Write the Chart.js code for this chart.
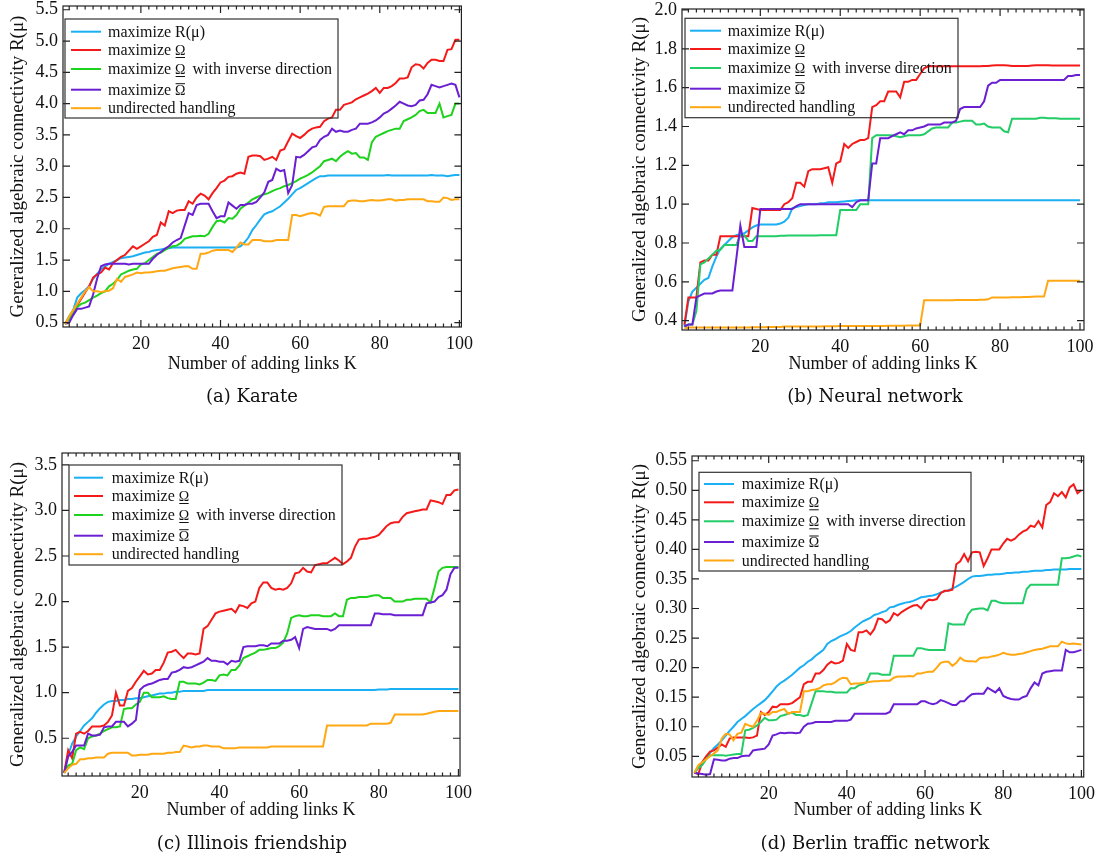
<!DOCTYPE html>
<html><head><meta charset="utf-8">
<script src="https://cdn.jsdelivr.net/npm/chart.js@4.4.1/dist/chart.umd.min.js"></script>
<style>
html,body{margin:0;padding:0;background:#fff;}
body{width:1101px;height:858px;position:relative;overflow:hidden;}
canvas{position:absolute;}
.cap{position:absolute;font-family:"DejaVu Serif",serif;font-size:18px;color:#111;white-space:nowrap;transform:translate(-50%,-50%);}
</style></head><body>
<canvas id="ca"></canvas><canvas id="cb"></canvas><canvas id="cc"></canvas><canvas id="cd"></canvas>
<div class="cap" style="left:252px;top:395px">(a) Karate</div>
<div class="cap" style="left:875px;top:395px">(b) Neural network</div>
<div class="cap" style="left:252px;top:842px">(c) Illinois friendship</div>
<div class="cap" style="left:875px;top:842px">(d) Berlin traffic network</div>
<script>
// ---------- shared categories / labels ----------
const K = [1,2,3,4,5,6,7,8,9,10,11,12,13,14,15,16,17,18,19,20,21,22,23,24,25,26,27,28,29,30,31,32,33,34,35,36,37,38,39,40,41,42,43,44,45,46,47,48,49,50,51,52,53,54,55,56,57,58,59,60,61,62,63,64,65,66,67,68,69,70,71,72,73,74,75,76,77,78,79,80,81,82,83,84,85,86,87,88,89,90,91,92,93,94,95,96,97,98,99,100];
const seriesLabels = ['maximize R(μ)','maximize Ω\u0332','maximize Ω\u0332 with inverse direction','maximize Ω\u0304','undirected handling'];
const xTicks = [20,40,60,80,100];
const xTitle = 'Number of adding links K';

// ---------- (a) Karate ----------
const karateYTicks = [0.5,1.0,1.5,2.0,2.5,3.0,3.5,4.0,4.5,5.0,5.5];
const karateRmu = [0.48,0.60,0.70,0.90,0.97,1.02,1.08,1.20,1.28,1.35, 1.40,1.44,1.47,1.50,1.53,1.54,1.55,1.56,1.58,1.60, 1.62,1.63,1.65,1.66,1.67,1.68,1.69,1.70,1.70,1.70, 1.70,1.70,1.70,1.70,1.70,1.70,1.70,1.70,1.70,1.70, 1.70,1.70,1.70,1.70,1.72,1.78,1.86,1.98,2.06,2.15, 2.23,2.26,2.28,2.32,2.36,2.42,2.48,2.55,2.62,2.65, 2.69,2.73,2.77,2.81,2.84,2.84,2.85,2.85,2.85,2.85, 2.85,2.85,2.85,2.85,2.85,2.85,2.85,2.85,2.85,2.85, 2.85,2.86,2.85,2.85,2.85,2.85,2.85,2.85,2.85,2.85, 2.85,2.85,2.86,2.85,2.85,2.85,2.84,2.85,2.86,2.86];
const karateOmegaLow = [0.49,0.58,0.65,0.78,0.88,0.98,1.08,1.22,1.27,1.30, 1.38,1.35,1.45,1.50,1.55,1.58,1.65,1.72,1.68,1.72, 1.76,1.80,1.87,1.90,2.10,2.05,2.28,2.25,2.29,2.30, 2.30,2.44,2.40,2.50,2.56,2.53,2.47,2.57,2.65,2.74, 2.77,2.83,2.84,2.88,2.90,2.88,3.15,3.17,3.17,3.16, 3.10,3.12,3.15,3.10,3.25,3.27,3.40,3.52,3.48,3.45, 3.50,3.56,3.60,3.62,3.63,3.72,3.76,3.78,3.90,3.90, 3.98,4.00,4.02,4.07,4.10,4.13,4.16,4.20,4.25,4.17, 4.25,4.25,4.28,4.33,4.40,4.40,4.42,4.58,4.63,4.62, 4.56,4.65,4.70,4.70,4.68,4.68,4.86,4.87,5.02,5.02];
const karateOmegaInv = [0.48,0.55,0.65,0.75,0.80,0.82,0.86,0.90,0.93,0.97, 1.00,1.08,1.12,1.18,1.27,1.30,1.33,1.35,1.36,1.43, 1.45,1.50,1.55,1.60,1.62,1.66,1.70,1.72,1.73,1.77, 1.84,1.86,1.88,1.88,1.89,1.88,1.92,2.03,2.12,2.13, 2.10,2.17,2.16,2.22,2.32,2.37,2.42,2.47,2.50,2.53, 2.55,2.57,2.60,2.63,2.65,2.68,2.70,2.73,2.76,2.80, 2.83,2.86,2.90,2.95,3.00,3.08,3.10,3.12,3.08,3.15, 3.20,3.24,3.20,3.21,3.14,3.14,3.10,3.38,3.47,3.50, 3.53,3.56,3.58,3.60,3.60,3.72,3.75,3.78,3.82,3.88, 3.90,3.85,3.85,3.85,4.00,3.78,3.80,3.82,4.00,4.00];
const karateOmegaBar = [0.48,0.50,0.62,0.72,0.72,0.74,0.76,0.95,1.20,1.40, 1.43,1.44,1.44,1.44,1.44,1.44,1.43,1.44,1.44,1.44, 1.44,1.44,1.52,1.58,1.63,1.68,1.72,1.78,1.82,1.85, 2.05,2.25,2.22,2.38,2.40,2.40,2.40,2.28,2.17,2.20, 2.20,2.42,2.37,2.32,2.38,2.38,2.40,2.40,2.43,2.50, 2.58,2.75,2.78,2.96,2.92,2.94,2.57,2.70,3.15,3.14, 3.18,3.24,3.30,3.32,3.42,3.47,3.50,3.60,3.55,3.57, 3.55,3.55,3.58,3.60,3.68,3.68,3.68,3.70,3.73,3.78, 3.84,3.87,3.92,3.97,4.03,4.00,3.97,3.96,3.98,4.05, 4.06,4.15,4.30,4.28,4.26,4.28,4.30,4.32,4.30,4.10];
const karateUndirected = [0.47,0.60,0.70,0.80,0.90,1.00,1.07,1.00,1.00,0.99, 1.00,1.01,1.05,1.20,1.15,1.23,1.25,1.27,1.30,1.29, 1.30,1.30,1.31,1.32,1.33,1.33,1.35,1.37,1.38,1.39, 1.40,1.40,1.36,1.36,1.60,1.60,1.62,1.65,1.66,1.66, 1.66,1.66,1.63,1.70,1.78,1.75,1.75,1.82,1.82,1.82, 1.80,1.80,1.80,1.82,1.82,1.82,1.82,2.22,2.22,2.20, 2.22,2.24,2.25,2.24,2.21,2.35,2.36,2.36,2.36,2.36, 2.36,2.44,2.45,2.45,2.44,2.44,2.45,2.46,2.45,2.45, 2.46,2.47,2.47,2.45,2.46,2.46,2.47,2.47,2.47,2.47, 2.47,2.44,2.44,2.43,2.43,2.50,2.49,2.46,2.47,2.47];

// ---------- (b) Neural network ----------
const neuralYTicks = [0.4,0.6,0.8,1.0,1.2,1.4,1.6,1.8,2.0];
const neuralRmu = [0.37,0.50,0.55,0.57,0.59,0.61,0.62,0.68,0.73,0.77, 0.79,0.81,0.83,0.84,0.845,0.85,0.865,0.88,0.89,0.895, 0.895,0.895,0.895,0.895,0.90,0.91,0.93,0.98,0.985,0.99, 0.995,1.0,1.0,1.0,1.005,1.005,1.01,1.01,1.01,1.012, 1.014,1.016,1.018,1.02,1.02,1.02,1.02,1.02,1.02,1.02, 1.02,1.02,1.02,1.02,1.02,1.02,1.02,1.02,1.02,1.02, 1.02,1.02,1.02,1.02,1.02,1.02,1.02,1.02,1.02,1.02, 1.02,1.02,1.02,1.02,1.02,1.02,1.02,1.02,1.02,1.02, 1.02,1.02,1.02,1.02,1.02,1.02,1.02,1.02,1.02,1.02, 1.02,1.02,1.02,1.02,1.02,1.02,1.02,1.02,1.02,1.02];
const neuralOmegaLow = [0.38,0.52,0.52,0.52,0.70,0.71,0.71,0.74,0.74,0.835, 0.835,0.835,0.835,0.835,0.835,0.835,0.835,0.98,0.975,0.97, 0.97,0.97,0.97,0.97,0.97,1.00,1.01,1.03,1.11,1.11, 1.09,1.17,1.18,1.18,1.18,1.185,1.19,1.11,1.21,1.22, 1.31,1.29,1.31,1.32,1.33,1.33,1.34,1.50,1.51,1.53, 1.53,1.58,1.58,1.58,1.55,1.63,1.63,1.64,1.64,1.67, 1.70,1.71,1.71,1.71,1.71,1.71,1.71,1.71,1.71,1.71, 1.71,1.71,1.71,1.71,1.71,1.712,1.712,1.714,1.715,1.715, 1.715,1.714,1.712,1.712,1.712,1.712,1.712,1.714,1.715,1.715, 1.715,1.715,1.714,1.714,1.714,1.714,1.714,1.714,1.714,1.714];
const neuralOmegaInv = [0.37,0.38,0.38,0.45,0.69,0.70,0.72,0.74,0.76,0.765, 0.79,0.79,0.79,0.79,0.84,0.84,0.81,0.81,0.835,0.835, 0.835,0.835,0.835,0.835,0.837,0.837,0.838,0.838,0.838,0.838, 0.838,0.838,0.838,0.839,0.84,0.84,0.84,0.84,0.84,0.97, 0.97,0.97,0.97,0.97,1.00,1.00,1.00,1.34,1.355,1.355, 1.355,1.355,1.355,1.35,1.345,1.35,1.355,1.355,1.355,1.355, 1.36,1.375,1.39,1.395,1.395,1.395,1.395,1.42,1.42,1.425, 1.43,1.43,1.43,1.41,1.41,1.415,1.40,1.395,1.395,1.395, 1.375,1.37,1.44,1.44,1.44,1.44,1.44,1.44,1.44,1.445, 1.445,1.443,1.443,1.443,1.44,1.44,1.44,1.44,1.44,1.44];
const neuralOmegaBar = [0.37,0.38,0.38,0.52,0.53,0.54,0.54,0.54,0.55,0.555, 0.555,0.555,0.555,0.72,0.89,0.78,0.78,0.78,0.78,0.975, 0.975,0.975,0.975,0.975,0.975,0.975,0.975,0.975,0.99,1.0, 1.0,1.0,1.0,1.0,1.0,1.0,1.0,1.0,1.0,1.0, 1.0,1.0,0.985,1.01,1.02,1.02,1.02,1.21,1.21,1.34, 1.34,1.34,1.35,1.36,1.37,1.36,1.38,1.38,1.39,1.395, 1.40,1.41,1.41,1.41,1.41,1.42,1.42,1.42,1.43,1.49, 1.50,1.50,1.50,1.50,1.50,1.53,1.61,1.625,1.625,1.64, 1.64,1.64,1.64,1.64,1.64,1.64,1.64,1.64,1.64,1.64, 1.64,1.64,1.64,1.64,1.64,1.64,1.66,1.66,1.665,1.665];
const neuralUndirected = [0.36,0.365,0.365,0.365,0.365,0.365,0.365,0.365,0.365,0.365, 0.365,0.365,0.365,0.365,0.365,0.365,0.365,0.366,0.366,0.366, 0.366,0.367,0.367,0.367,0.367,0.37,0.37,0.37,0.37,0.37, 0.37,0.37,0.37,0.37,0.37,0.371,0.371,0.371,0.371,0.372, 0.372,0.372,0.372,0.372,0.372,0.373,0.373,0.373,0.373,0.373, 0.373,0.374,0.374,0.374,0.374,0.374,0.375,0.375,0.375,0.375, 0.505,0.505,0.505,0.505,0.505,0.505,0.505,0.505,0.506,0.506, 0.506,0.507,0.507,0.507,0.508,0.508,0.51,0.52,0.52,0.52, 0.52,0.52,0.521,0.521,0.521,0.522,0.522,0.523,0.524,0.525, 0.525,0.605,0.605,0.605,0.605,0.605,0.605,0.605,0.605,0.605];

// ---------- (c) Illinois friendship ----------
const illinoisYTicks = [0.5,1.0,1.5,2.0,2.5,3.0,3.5];
const illinoisRmu = [0.12,0.32,0.44,0.52,0.58,0.64,0.68,0.72,0.78,0.83, 0.87,0.90,0.91,0.91,0.92,0.92,0.93,0.93,0.94,0.94, 0.95,0.96,0.97,0.98,0.99,0.99,1.00,1.00,1.01,1.01, 1.02,1.02,1.02,1.02,1.02,1.02,1.03,1.03,1.03,1.03, 1.03,1.03,1.03,1.03,1.03,1.03,1.03,1.03,1.03,1.03, 1.03,1.03,1.03,1.03,1.03,1.03,1.03,1.03,1.03,1.03, 1.03,1.03,1.03,1.03,1.03,1.03,1.03,1.03,1.03,1.03, 1.03,1.03,1.03,1.03,1.03,1.03,1.03,1.03,1.03,1.035, 1.035,1.035,1.04,1.04,1.04,1.04,1.04,1.04,1.04,1.04, 1.04,1.04,1.04,1.04,1.04,1.04,1.04,1.04,1.04,1.04];
const illinoisOmegaLow = [0.12,0.37,0.28,0.55,0.57,0.55,0.58,0.63,0.63,0.63, 0.64,0.68,0.75,1.00,0.86,0.86,1.02,1.05,1.12,1.18, 1.24,1.20,1.21,1.25,1.25,1.33,1.44,1.45,1.47,1.42, 1.38,1.43,1.43,1.42,1.43,1.70,1.73,1.80,1.87,1.89, 1.90,1.91,1.92,1.88,1.96,1.95,1.93,1.98,2.00,2.15, 2.21,2.21,2.15,2.13,2.14,2.13,2.15,2.20,2.31,2.32, 2.37,2.33,2.32,2.40,2.41,2.42,2.42,2.45,2.48,2.45, 2.41,2.44,2.48,2.60,2.68,2.69,2.69,2.70,2.71,2.73, 2.78,2.83,2.86,2.87,2.87,2.93,2.97,2.98,2.99,3.00, 3.01,3.01,3.11,3.10,3.09,3.07,3.17,3.17,3.22,3.23];
const illinoisOmegaInv = [0.12,0.20,0.22,0.37,0.40,0.38,0.50,0.52,0.53,0.55, 0.58,0.60,0.62,0.62,0.63,0.82,0.83,0.83,0.87,0.90, 1.00,1.00,0.95,0.95,0.95,0.96,0.94,0.93,0.93,1.12, 1.12,1.10,1.10,1.10,1.09,1.11,1.14,1.14,1.13,1.19, 1.20,1.19,1.25,1.25,1.30,1.38,1.40,1.42,1.44,1.47, 1.47,1.48,1.49,1.49,1.51,1.55,1.65,1.82,1.84,1.85, 1.84,1.84,1.85,1.85,1.85,1.84,1.84,1.84,1.87,1.84, 1.84,2.02,2.04,2.04,2.05,2.05,2.05,2.06,2.07,2.07, 2.04,2.04,2.04,2.00,2.00,2.00,2.02,2.02,2.03,2.03, 2.03,2.03,1.99,2.15,2.33,2.37,2.38,2.38,2.38,2.38];
const illinoisOmegaBar = [0.12,0.30,0.35,0.42,0.42,0.42,0.55,0.53,0.53,0.54, 0.62,0.63,0.63,0.68,0.68,0.68,0.63,0.66,0.70,1.03, 1.07,1.09,1.10,1.12,1.14,1.15,1.15,1.22,1.23,1.25, 1.28,1.27,1.28,1.30,1.32,1.34,1.38,1.35,1.35,1.34, 1.34,1.31,1.35,1.34,1.35,1.50,1.51,1.51,1.51,1.52, 1.52,1.51,1.54,1.54,1.54,1.57,1.57,1.58,1.61,1.49, 1.70,1.72,1.71,1.70,1.70,1.70,1.70,1.68,1.70,1.74, 1.74,1.74,1.74,1.74,1.74,1.74,1.74,1.74,1.87,1.87, 1.86,1.86,1.86,1.85,1.85,1.85,1.85,1.85,1.85,1.85, 1.85,1.98,1.99,2.00,2.05,2.07,2.13,2.30,2.37,2.37];
const illinoisUndirected = [0.12,0.17,0.21,0.22,0.27,0.27,0.28,0.28,0.29,0.29, 0.29,0.33,0.34,0.34,0.34,0.34,0.34,0.31,0.31,0.32, 0.32,0.32,0.33,0.33,0.33,0.33,0.34,0.34,0.35,0.35, 0.42,0.41,0.40,0.41,0.41,0.42,0.42,0.41,0.41,0.41, 0.39,0.39,0.39,0.39,0.40,0.40,0.40,0.40,0.40,0.40, 0.40,0.40,0.41,0.41,0.41,0.41,0.41,0.41,0.41,0.41, 0.41,0.41,0.41,0.41,0.41,0.41,0.64,0.64,0.64,0.64, 0.64,0.64,0.64,0.64,0.64,0.64,0.64,0.66,0.66,0.66, 0.66,0.66,0.67,0.76,0.76,0.76,0.76,0.76,0.76,0.76, 0.76,0.77,0.78,0.79,0.80,0.80,0.80,0.80,0.80,0.80];

// ---------- (d) Berlin traffic network ----------
const berlinYTicks = [0.05,0.10,0.15,0.20,0.25,0.30,0.35,0.40,0.45,0.50,0.55];
const berlinRmu = [0.022,0.033,0.040,0.048,0.056,0.064,0.070,0.077,0.085,0.093, 0.100,0.108,0.113,0.118,0.124,0.130,0.135,0.140,0.145,0.152, 0.160,0.168,0.174,0.178,0.183,0.188,0.194,0.200,0.204,0.210, 0.214,0.220,0.225,0.230,0.240,0.245,0.248,0.252,0.255,0.258, 0.262,0.268,0.273,0.278,0.281,0.284,0.289,0.291,0.294,0.296, 0.302,0.303,0.306,0.308,0.310,0.311,0.313,0.316,0.319,0.320, 0.321,0.322,0.324,0.327,0.329,0.331,0.334,0.337,0.341,0.345, 0.350,0.354,0.355,0.355,0.356,0.357,0.357,0.358,0.358,0.359, 0.360,0.360,0.361,0.361,0.362,0.362,0.363,0.364,0.364,0.364, 0.365,0.365,0.366,0.366,0.366,0.366,0.367,0.367,0.367,0.367];
const berlinOmegaLow = [0.022,0.020,0.040,0.050,0.058,0.060,0.065,0.070,0.066,0.080, 0.082,0.082,0.082,0.082,0.081,0.082,0.085,0.125,0.120,0.125, 0.134,0.133,0.138,0.138,0.138,0.140,0.145,0.150,0.172,0.176, 0.176,0.190,0.190,0.196,0.205,0.210,0.207,0.208,0.212,0.240, 0.230,0.228,0.260,0.260,0.263,0.256,0.265,0.283,0.282,0.276, 0.280,0.292,0.288,0.294,0.298,0.302,0.305,0.306,0.300,0.310, 0.315,0.314,0.316,0.326,0.330,0.330,0.332,0.375,0.380,0.392, 0.380,0.395,0.396,0.395,0.372,0.385,0.400,0.400,0.400,0.410, 0.418,0.415,0.418,0.425,0.430,0.433,0.440,0.438,0.448,0.437, 0.475,0.480,0.495,0.490,0.497,0.488,0.505,0.510,0.495,0.500];
const berlinOmegaInv = [0.022,0.030,0.035,0.045,0.052,0.052,0.052,0.052,0.051,0.052, 0.053,0.054,0.054,0.094,0.095,0.098,0.102,0.108,0.115,0.111, 0.111,0.112,0.118,0.120,0.122,0.124,0.120,0.120,0.118,0.120, 0.140,0.160,0.160,0.160,0.159,0.159,0.158,0.158,0.158,0.158, 0.165,0.165,0.170,0.172,0.175,0.190,0.190,0.190,0.188,0.188, 0.188,0.220,0.220,0.220,0.220,0.220,0.220,0.233,0.233,0.231, 0.230,0.230,0.230,0.230,0.230,0.275,0.273,0.273,0.273,0.273, 0.290,0.298,0.299,0.300,0.300,0.297,0.313,0.313,0.310,0.309, 0.309,0.309,0.309,0.309,0.309,0.333,0.340,0.340,0.340,0.340, 0.340,0.340,0.340,0.340,0.385,0.385,0.386,0.388,0.390,0.388];
const berlinOmegaBar = [0.022,0.021,0.020,0.019,0.020,0.045,0.044,0.043,0.043,0.046, 0.047,0.047,0.050,0.051,0.051,0.060,0.061,0.062,0.063,0.070, 0.085,0.087,0.090,0.089,0.090,0.090,0.089,0.090,0.100,0.105, 0.106,0.108,0.108,0.108,0.108,0.108,0.110,0.110,0.110,0.110, 0.112,0.122,0.122,0.122,0.122,0.122,0.122,0.122,0.122,0.122, 0.125,0.138,0.138,0.138,0.138,0.138,0.138,0.138,0.143,0.143, 0.140,0.138,0.140,0.145,0.143,0.140,0.137,0.137,0.143,0.143, 0.150,0.155,0.156,0.156,0.156,0.166,0.162,0.158,0.165,0.152, 0.149,0.147,0.146,0.146,0.150,0.152,0.165,0.175,0.170,0.190, 0.193,0.194,0.195,0.195,0.195,0.230,0.226,0.226,0.228,0.230];
const berlinUndirected = [0.022,0.035,0.040,0.045,0.050,0.055,0.060,0.080,0.088,0.087, 0.077,0.088,0.090,0.105,0.102,0.100,0.110,0.123,0.122,0.120, 0.125,0.125,0.128,0.130,0.122,0.125,0.125,0.125,0.160,0.160, 0.162,0.163,0.165,0.170,0.172,0.172,0.175,0.180,0.183,0.182, 0.172,0.173,0.173,0.174,0.175,0.176,0.177,0.177,0.178,0.178, 0.178,0.183,0.185,0.185,0.185,0.186,0.185,0.190,0.190,0.192, 0.193,0.193,0.200,0.208,0.210,0.210,0.203,0.208,0.217,0.212, 0.211,0.211,0.210,0.216,0.217,0.217,0.219,0.220,0.222,0.225, 0.223,0.222,0.222,0.223,0.224,0.226,0.228,0.230,0.231,0.232, 0.234,0.236,0.236,0.236,0.244,0.241,0.240,0.241,0.240,0.239];

// ---------- styling ----------
const FONT = '"Liberation Serif","Times New Roman",serif';
const colorsA = ['#1bb0f3','#f51a1a','#1ed21e','#6a1fd2','#ffa814'];
const colorsB = ['#1bb0f3','#f51a1a','#22cc66','#6a1fd2','#ffa814'];

const framePlugin = {
  id: 'frameTicks',
  afterDatasetsDraw(chart) {
    const {ctx, chartArea: a, scales: {x, y}} = chart;
    ctx.save();
    ctx.strokeStyle = '#222';
    ctx.lineWidth = 1.2;
    ctx.beginPath();
    for (let v = 2; v <= 100; v += 2) {
      const px = x.getPixelForValue(v);
      const len = (v % 20 === 0) ? 7 : 3.5;
      ctx.moveTo(px, a.bottom); ctx.lineTo(px, a.bottom - len);
      ctx.moveTo(px, a.top); ctx.lineTo(px, a.top + len);
    }
    y.ticks.forEach(t => {
      const py = y.getPixelForValue(t.value);
      ctx.moveTo(a.left, py); ctx.lineTo(a.left + 7, py);
      ctx.moveTo(a.right, py); ctx.lineTo(a.right - 7, py);
    });
    ctx.stroke();
    ctx.strokeRect(a.left, a.top, a.right - a.left, a.bottom - a.top);
    ctx.restore();
  }
};

const legendPlugin = {
  id: 'boxLegend',
  afterDraw(chart, args, o) {
    const ctx = chart.ctx;
    ctx.save();
    ctx.strokeStyle = '#333';
    ctx.lineWidth = 1.2;
    ctx.strokeRect(o.box[0] - o.ox, o.box[1] - o.oy, o.box[2], o.box[3]);
    const rows = [0, 18.3, 37.3, 58, 76.5];
    chart.data.datasets.forEach((ds, i) => {
      const yy = o.y0 + rows[i] - o.oy;
      ctx.strokeStyle = ds.borderColor;
      ctx.lineWidth = 2;
      ctx.beginPath();
      ctx.moveTo(o.lx0 - o.ox, yy); ctx.lineTo(o.lx1 - o.ox, yy);
      ctx.stroke();
      const base = yy + 5;
      let tx = o.tx - o.ox;
      ctx.fillStyle = '#111';
      ctx.textBaseline = 'alphabetic';
      ctx.textAlign = 'left';
      ctx.font = '16px ' + FONT;
      const m = ds.label.match(/^(.*?)Ω([\u0332\u0304])(.*)$/);
      if (!m) { ctx.fillText(ds.label, tx, base); return; }
      ctx.fillText(m[1], tx, base);
      tx += ctx.measureText(m[1]).width;
      ctx.font = '14px ' + FONT;
      ctx.fillText('Ω', tx, base);
      const w = ctx.measureText('Ω').width;
      ctx.strokeStyle = '#111';
      ctx.lineWidth = 1;
      ctx.beginPath();
      const ly = m[2] === '\u0332' ? base + 2.5 : base - 11;
      ctx.moveTo(tx + 0.5, ly); ctx.lineTo(tx + w - 0.5, ly);
      ctx.stroke();
      tx += w + 3;
      if (m[3]) { ctx.font = '16px ' + FONT; ctx.fillText(m[3], tx, base); }
    });
    ctx.restore();
  }
};

function makePanel(id, P) {
  const cv = document.getElementById(id);
  const cx = P.L - P.yW, cy = P.T - 20;
  const cw = P.R - cx + 17, ch = P.B - cy + 60;
  cv.style.left = cx + 'px'; cv.style.top = cy + 'px';
  cv.style.width = cw + 'px'; cv.style.height = ch + 'px';
  cv.width = cw; cv.height = ch;
  const datasets = P.series.map((s, i) => ({
    label: seriesLabels[i],
    data: s.map((v, j) => ({x: K[j], y: v})),
    borderColor: P.colors[i],
    backgroundColor: P.colors[i],
    borderWidth: 2,
    pointRadius: 0,
    tension: 0,
    fill: false,
    order: 5 - i
  }));
  new Chart(cv, {
    type: 'line',
    data: {datasets},
    plugins: [framePlugin, legendPlugin],
    options: {
      responsive: false,
      animation: false,
      events: [],
      layout: {padding: {left: 0, top: 20, right: 17, bottom: 0}},
      plugins: {
        legend: {display: false},
        tooltip: {enabled: false},
        boxLegend: {box: P.box, y0: P.y0, lx0: P.lx0, lx1: P.lx1, tx: P.tx, ox: cx, oy: cy}
      },
      scales: {
        x: {
          type: 'linear', min: P.xmin, max: P.xmax,
          afterBuildTicks: s => { s.ticks = xTicks.map(v => ({value: v})); },
          afterFit: s => { s.height = 60; },
          grid: {display: false, drawTicks: false},
          border: {display: false},
          ticks: {padding: 6, autoSkip: false, maxRotation: 0, color: '#111',
                  font: {family: FONT, size: 18}, callback: v => String(v)},
          title: {display: true, text: xTitle, color: '#111',
                  font: {family: FONT, size: 18, lineHeight: 1.2},
                  padding: {top: 0, bottom: cy + ch - 10.8 - P.xTitleY}}
        },
        y: {
          type: 'linear', min: P.ymin, max: P.ymax,
          afterBuildTicks: s => { s.ticks = P.yTicks.map(v => ({value: v})); },
          afterFit: s => { s.width = P.yW; },
          grid: {display: false, drawTicks: false},
          border: {display: false},
          ticks: {padding: 5, autoSkip: false, color: '#111',
                  font: {family: FONT, size: 18}, callback: v => v.toFixed(P.dec)},
          title: {display: true, text: P.yTitle, color: '#111',
                  font: {family: FONT, size: 19, lineHeight: 1.2},
                  padding: {top: P.yTitleX - cx - 11.4, bottom: 0}}
        }
      }
    }
  });
}

makePanel('ca', {L:63, T:6, R:462, B:327, yW:63, xmin:0.44, xmax:100.5, ymin:0.43, ymax:5.56,
  yTicks: karateYTicks, dec:1, yTitle:'Gereralized algebraic connectivity R(μ)', yTitleX:18, xTitleY:364,
  series:[karateRmu, karateOmegaLow, karateOmegaInv, karateOmegaBar, karateUndirected], colors: colorsA,
  box:[65,19,273,99], y0:31.7, lx0:71, lx1:101, tx:108});
makePanel('cb', {L:682, T:9, R:1084, B:330, yW:63, xmin:0.4, xmax:101, ymin:0.352, ymax:2.005,
  yTicks: neuralYTicks, dec:1, yTitle:'Generalized algebraic connectivity R(μ)', yTitleX:640, xTitleY:364,
  series:[neuralRmu, neuralOmegaLow, neuralOmegaInv, neuralOmegaBar, neuralUndirected], colors: colorsB,
  box:[685,18.3,273,99.4], y0:30.7, lx0:690, lx1:721, tx:727.7});
makePanel('cc', {L:62, T:453, R:461, B:776, yW:62, xmin:0.45, xmax:100.4, ymin:0.086, ymax:3.63,
  yTicks: illinoisYTicks, dec:1, yTitle:'Generalized algebraic connectivity R(μ)', yTitleX:18, xTitleY:810,
  series:[illinoisRmu, illinoisOmegaLow, illinoisOmegaInv, illinoisOmegaBar, illinoisUndirected], colors: colorsA,
  box:[69,465,273,100], y0:477.7, lx0:74, lx1:103, tx:111.7});
makePanel('cd', {L:692, T:456, R:1084, B:777, yW:73, xmin:0.38, xmax:100.6, ymin:0.015, ymax:0.558,
  yTicks: berlinYTicks, dec:2, yTitle:'Generalized algebraic connectivity R(μ)', yTitleX:640, xTitleY:810,
  series:[berlinRmu, berlinOmegaLow, berlinOmegaInv, berlinOmegaBar, berlinUndirected], colors: colorsB,
  box:[699,472.3,272,98.7], y0:484, lx0:704, lx1:734, tx:741.7});
</script>
</body></html>
